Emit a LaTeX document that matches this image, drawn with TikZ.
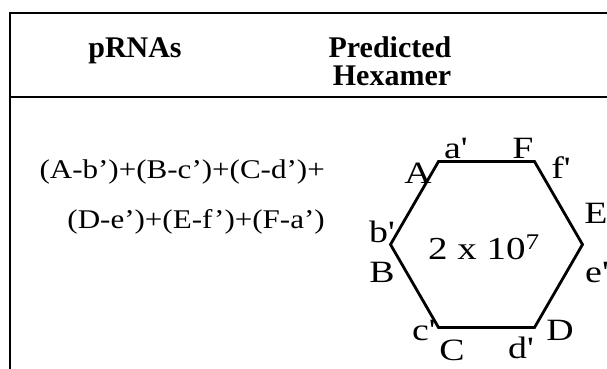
\documentclass[tikz,border=0pt]{standalone}
\usepackage{fontspec}
\setmainfont{Liberation Serif}
\newfontfamily\widefont{Liberation Serif}[FakeStretch=1.22]
\newfontfamily\widequote{Liberation Serif}[FakeStretch=1.15, Ligatures=TeX]
\usetikzlibrary{positioning}
\tikzset{
  rule/.style={line width=2.6pt, line cap=rect},
  hexedge/.style={line width=2.8pt, line join=miter},
  headtext/.style={font=\fontsize{30}{30}\selectfont\bfseries, inner sep=0pt, anchor=base},
  formula/.style={font=\widequote\fontsize{27}{50}\selectfont, align=right, inner sep=0pt, anchor=base east},
  vlabel/.style={font=\widefont\fontsize{31}{31}\selectfont, inner sep=0pt, anchor=base},
  count/.style={font=\widefont\fontsize{32}{32}\selectfont, inner sep=0pt, anchor=base},
}

\begin{document}
\begin{tikzpicture}[x=1pt, y=-1pt]
  \useasboundingbox (0,0) rectangle (607,368);

  % table frame
  \coordinate (tl) at (10,13);
  \coordinate (tr) at (607,13);
  \coordinate (ml) at (10,97);
  \coordinate (mr) at (607,97);
  \coordinate (bl) at (10,368);
  \draw[rule] (tl) -- (tr);
  \draw[rule] (ml) -- (mr);
  \draw[rule] (tl) -- (bl);

  % header
  \node[headtext] (hpr) at (135,57) {pRNAs};
  \node[headtext] (hpred) at (390,57) {Predicted};
  \node[headtext] (hhex) at (392,85) {Hexamer};

  % mixture
  \node[formula] (mix) at (325,228) {(A-b')+(B-c')+(C-d')+\\(D-e')+(E-f')+(F-a')};

  % hexamer
  \coordinate (pA) at (438.5,161.5);
  \coordinate (pF) at (534.5,161.5);
  \coordinate (pE) at (582.5,244.5);
  \coordinate (pD) at (534.5,327.5);
  \coordinate (pC) at (438.5,327.5);
  \coordinate (pB) at (390.5,244.5);
  \draw[hexedge] (pA) -- (pF) -- (pE) -- (pD) -- (pC) -- (pB) -- cycle;

  \node[count] (cnt) at (484,259) {2 x 10\textsuperscript{7}};

  \node[vlabel] (lA) at (418,183) {A};
  \node[vlabel] (la) at (456,158) {a'};
  \node[vlabel] (lF) at (523,158) {F};
  \node[vlabel] (lf) at (561,178) {f'};
  \node[vlabel] (lE) at (596,223) {E};
  \node[vlabel] (le) at (597,282) {e'};
  \node[vlabel] (lD) at (560,340) {D};
  \node[vlabel] (ld) at (521,358) {d'};
  \node[vlabel] (lC) at (452,360) {C};
  \node[vlabel] (lc) at (424,340) {c'};
  \node[vlabel] (lB) at (382,282) {B};
  \node[vlabel] (lb) at (382,242) {b'};
\end{tikzpicture}
\end{document}
